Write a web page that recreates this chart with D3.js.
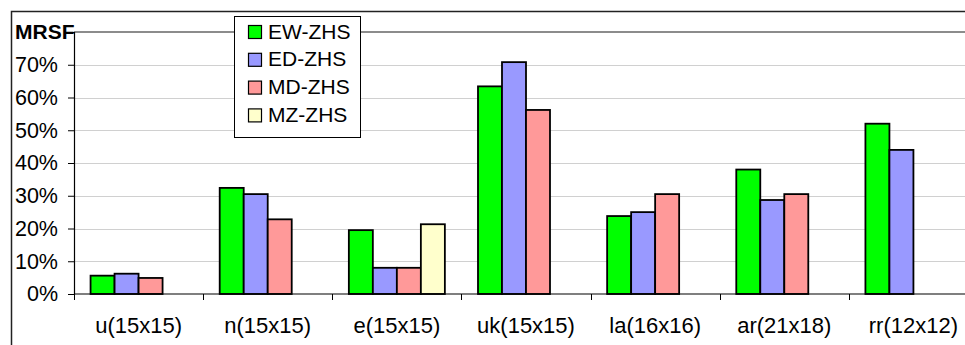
<!DOCTYPE html>
<html>
<head>
<meta charset="utf-8">
<script src="https://cdn.jsdelivr.net/npm/d3@7"></script>
<style>
  html, body { margin: 0; padding: 0; background: #fff; }
  svg { display: block; }
  text { font-family: "Liberation Sans", Arial, sans-serif; fill: #000; }
</style>
</head>
<body>
<svg id="chart" width="965" height="345"></svg>
<script>
// Matrices and their sizes
const categories = ["u(15x15)", "n(15x15)", "e(15x15)", "uk(15x15)", "la(16x16)", "ar(21x18)", "rr(12x12)"];
// Heuristic series, MRSF in percent (null = no bar)
const seriesNames = ["EW-ZHS", "ED-ZHS", "MD-ZHS", "MZ-ZHS"];
const ewZhs = [5.6, 32.4, 19.5, 63.4, 23.8, 38.0, 52.0];
const edZhs = [6.2, 30.5, 8.0, 70.8, 25.0, 28.7, 44.0];
const mdZhs = [4.9, 22.8, 8.0, 56.2, 30.5, 30.5, null];
const mzZhs = [null, null, 21.3, null, null, null, null];
const yTicks = [0, 10, 20, 30, 40, 50, 60, 70];
const yMax = 80;
const seriesColors = ["#00ff00", "#9999ff", "#ff9999", "#ffffcc"];

const seriesValues = [ewZhs, edZhs, mdZhs, mzZhs];

const svg = d3.select("#chart");
const plot = { left: 74, top: 32, right: 978, bottom: 294 };

const x = d3.scaleBand().domain(categories).range([plot.left, plot.right]).padding(0);
const xs = d3.scaleBand().domain(seriesNames).range([0, x.bandwidth()])
  .paddingInner(0).paddingOuter(0.69);
const y = d3.scaleLinear().domain([0, yMax]).range([plot.bottom, plot.top]);

// Outer chart frame
svg.append("path")
  .attr("d", "M11.5,345 V11.5 H965")
  .attr("fill", "none").attr("stroke", "#222").attr("stroke-width", 1.5);

// Horizontal gridlines
svg.append("g").selectAll("line").data(yTicks.filter(t => t > 0)).join("line")
  .attr("x1", plot.left).attr("x2", 965)
  .attr("y1", d => Math.round(y(d)) + 0.5).attr("y2", d => Math.round(y(d)) + 0.5)
  .attr("stroke", "#d0d0d0").attr("stroke-width", 1);

// Plot area top edge
svg.append("line")
  .attr("x1", plot.left).attr("x2", 965)
  .attr("y1", y(yMax)).attr("y2", y(yMax))
  .attr("stroke", "#8c8c8c").attr("stroke-width", 2);

// Bars
const rows = [];
categories.forEach((c, i) => {
  seriesNames.forEach((s, j) => {
    const v = seriesValues[j][i];
    if (v != null) rows.push({ c, s, v, color: seriesColors[j] });
  });
});
svg.append("g").selectAll("rect").data(rows).join("rect")
  .attr("x", d => x(d.c) + xs(d.s))
  .attr("width", xs.bandwidth())
  .attr("y", d => y(d.v))
  .attr("height", d => y(0) - y(d.v))
  .attr("fill", d => d.color)
  .attr("stroke", "#000").attr("stroke-width", 1.8);

// Y axis
const yAxis = d3.axisLeft(y).tickValues(yTicks).tickSize(6).tickPadding(10)
  .tickFormat(d => d + "%");
const gy = svg.append("g").attr("transform", `translate(${plot.left},0)`).call(yAxis);
gy.select(".domain").attr("stroke", "#000").attr("stroke-width", 1.2);
gy.selectAll(".tick line").attr("stroke", "#000");
gy.selectAll(".tick text").attr("font-size", 21.5).attr("dy", "0.32em")
  .attr("font-family", '"Liberation Sans", Arial, sans-serif');

// X axis: ticks at category boundaries, labels centred under each group
svg.append("line").attr("x1", plot.left).attr("x2", 965)
  .attr("y1", plot.bottom).attr("y2", plot.bottom)
  .attr("stroke", "#000").attr("stroke-width", 1.2);
svg.append("g").selectAll("line").data(categories).join("line")
  .attr("x1", d => Math.round(x(d)) + 0.5).attr("x2", d => Math.round(x(d)) + 0.5)
  .attr("y1", plot.bottom).attr("y2", plot.bottom + 6)
  .attr("stroke", "#000");
svg.append("g").selectAll("text").data(categories).join("text")
  .attr("x", d => x(d) + x.bandwidth() / 2)
  .attr("y", 333)
  .attr("text-anchor", "middle")
  .attr("font-size", 22)
  .text(d => d);

// Axis title
svg.append("text").attr("x", 15).attr("y", 39)
  .attr("font-size", 21).attr("font-weight", "bold").text("MRSF");

// Legend
const legend = svg.append("g");
legend.append("rect").attr("x", 234.5).attr("y", 16.5).attr("width", 126).attr("height", 121)
  .attr("fill", "#fff").attr("stroke", "#000").attr("stroke-width", 1);
const li = legend.selectAll("g.item").data(seriesNames).join("g").attr("class", "item")
  .attr("transform", (d, i) => `translate(0,${31 + i * 27.8})`);
li.append("rect").attr("x", 248.5).attr("y", -5.5).attr("width", 13).attr("height", 13)
  .attr("fill", (d, i) => seriesColors[i]).attr("stroke", "#000").attr("stroke-width", 1.2);
li.append("text").attr("x", 268).attr("y", 0).attr("dy", "0.36em")
  .attr("font-size", 21).text(d => d);
</script>
</body>
</html>
